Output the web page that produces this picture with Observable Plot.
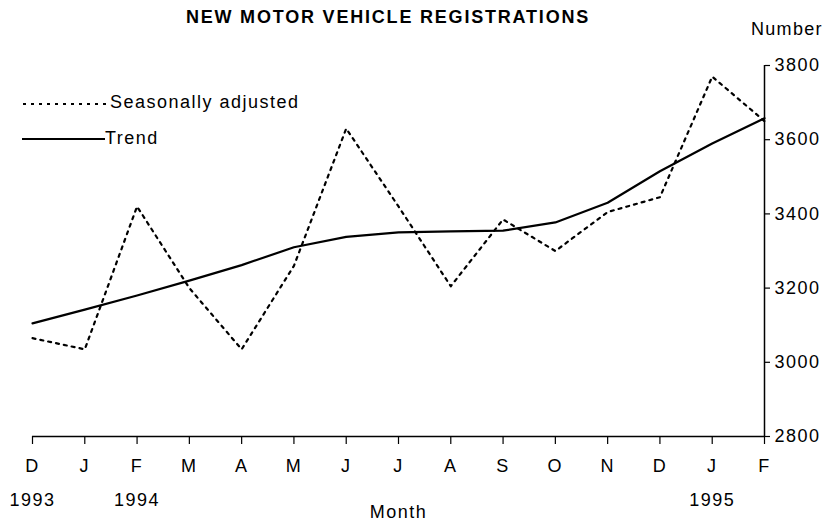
<!DOCTYPE html>
<html>
<head>
<meta charset="utf-8">
<script src="https://cdn.jsdelivr.net/npm/d3@7"></script>
<script src="https://cdn.jsdelivr.net/npm/@observablehq/plot@0.6"></script>
<style>
  html, body { margin: 0; padding: 0; background: #fff; }
  #wrap { position: relative; width: 837px; height: 522px; font-family: "Liberation Sans", Arial, sans-serif; color: #000; }
  #wrap svg text { letter-spacing: 1.5px; }
  .title { position: absolute; left: 0; width: 776px; top: 7px; text-align: center; font-weight: bold; font-size: 18px; letter-spacing: 1.8px; }
  .unit { position: absolute; left: 751px; top: 19px; font-size: 18px; letter-spacing: 1.3px; }
  .legend { position: absolute; left: 22px; font-size: 18px; letter-spacing: 1.5px; display: flex; align-items: center; }
  .legend svg { display: block; }
  #chart { position: absolute; left: 0; top: 0; }
</style>
</head>
<body>
<div id="wrap">
  <div id="chart"></div>
  <div class="title">NEW MOTOR VEHICLE REGISTRATIONS</div>
  <div class="unit">Number</div>
  <div class="legend" style="top:92px"><svg width="88" height="8"><line x1="1" y1="5" x2="86" y2="5" stroke="#000" stroke-width="2" stroke-dasharray="3,5"/></svg><span>Seasonally adjusted</span></div>
  <div class="legend" style="top:128px"><svg width="83" height="8"><line x1="0" y1="4" x2="83" y2="4" stroke="#000" stroke-width="2"/></svg><span>Trend</span></div>
</div>
<script>
const months = ["D","J","F","M","A","M","J","J","A","S","O","N","D","J","F"];
const years = [{i: 0, label: "1993"}, {i: 2, label: "1994"}, {i: 13, label: "1995"}];
const seasonallyAdjusted = [3065, 3035, 3420, 3200, 3035, 3260, 3630, 3420, 3205, 3385, 3300, 3405, 3445, 3770, 3650];
const trend = [3105, 3142, 3180, 3220, 3262, 3310, 3338, 3350, 3353, 3355, 3377, 3430, 3515, 3590, 3658];
const yTicks = [2800, 3000, 3200, 3400, 3600, 3800];

const idx = months.map((_, i) => i);
const saData = idx.map(i => ({i, v: seasonallyAdjusted[i]}));
const trData = idx.map(i => ({i, v: trend[i]}));

const chart = Plot.plot({
  width: 837,
  height: 522,
  marginLeft: 32,
  marginRight: 73,
  marginTop: 65,
  marginBottom: 86,
  style: {fontFamily: "'Liberation Sans', Arial, sans-serif", fontSize: "18px", color: "#000", background: "#fff"},
  x: {domain: [0, 14]},
  y: {domain: [2800, 3800]},
  marks: [
    Plot.axisX({ticks: idx, tickFormat: i => months[i], tickSize: 8, tickPadding: 15, label: null, fontSize: 18, stroke: "#000", strokeWidth: 1.2}),
    Plot.axisY({anchor: "right", ticks: yTicks, tickFormat: d => String(d), tickSize: 5, tickPadding: 5, label: null, fontSize: 18, stroke: "#000", strokeWidth: 1.2}),
    Plot.ruleY([2800], {stroke: "#000", strokeWidth: 1.5}),
    Plot.ruleX([14], {y1: 2800, y2: 3800, stroke: "#000", strokeWidth: 1.5}),
    Plot.line(trData, {x: "i", y: "v", stroke: "#000", strokeWidth: 2.2}),
    Plot.line(saData, {x: "i", y: "v", stroke: "#000", strokeWidth: 2.2, strokeDasharray: "3,5"}),
    Plot.text(years, {x: "i", y: () => 2800, text: "label", dy: 64, fontSize: 18}),
    Plot.text(["Month"], {x: () => 7, y: () => 2800, text: d => d, dy: 76, fontSize: 18})
  ]
});
document.getElementById("chart").appendChild(chart);
</script>
</body>
</html>
